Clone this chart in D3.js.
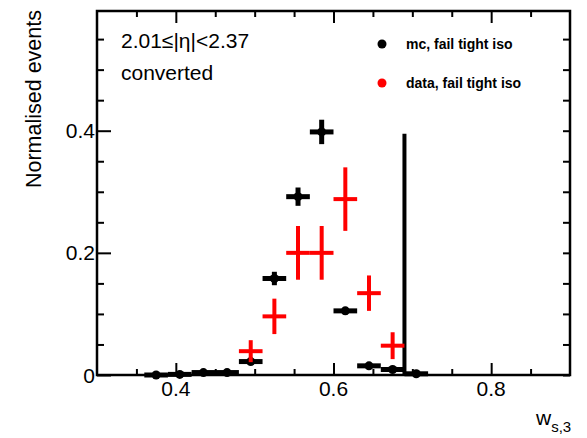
<!DOCTYPE html>
<html>
<head>
<meta charset="utf-8">
<script src="https://cdn.jsdelivr.net/npm/d3@7"></script>
<style>
  body { margin: 0; background: #fff; }
  svg { display: block; font-family: "Liberation Sans", Arial, Helvetica, sans-serif; }
</style>
</head>
<body>
<svg id="chart" width="587" height="438"></svg>
<script>
// bin centres (bin width 0.03)
const binWidth = 0.03;
const mcX = [0.375, 0.405, 0.435, 0.465, 0.495, 0.525, 0.555, 0.585, 0.615, 0.645, 0.675, 0.705];
const mcY = [0.000, 0.001, 0.004, 0.004, 0.022, 0.158, 0.292, 0.398, 0.105, 0.015, 0.009, 0.002];
const mcErr = [0.001, 0.001, 0.002, 0.002, 0.004, 0.011, 0.015, 0.020, 0.006, 0.003, 0.002, 0.001];

const dataX = [0.495, 0.525, 0.555, 0.585, 0.615, 0.645, 0.675];
const dataY = [0.039, 0.096, 0.200, 0.200, 0.288, 0.134, 0.048];
const dataErr = [0.018, 0.029, 0.044, 0.044, 0.052, 0.029, 0.022];

// cut line
const cutX = 0.69;
const cutHeight = 0.395;

const xMajor = [0.4, 0.6, 0.8];
const xMinor = [0.35, 0.45, 0.5, 0.55, 0.65, 0.7, 0.75, 0.85];
const yMajor = [0, 0.2, 0.4];
const yMinor = [0.05, 0.1, 0.15, 0.25, 0.3, 0.35, 0.45, 0.5, 0.55];

const legendItems = ["mc, fail tight iso", "data, fail tight iso"];
const legendColors = ["#000", "#ff0000"];

const svg = d3.select("#chart");
const frame = { left: 97, right: 570, top: 11, bottom: 375 };

const x = d3.scaleLinear().domain([0.3, 0.9]).range([frame.left, frame.right]);
const y = d3.scaleLinear().domain([0, 0.596]).range([frame.bottom, frame.top]);

// ticks (all sides, pointing inward)
function tickAxis(axisFn, scale, values, size, transform) {
  const g = svg.append("g")
    .attr("transform", transform)
    .call(axisFn(scale).tickValues(values).tickSize(size).tickFormat(""));
  g.select(".domain").remove();
  g.selectAll("line").attr("stroke", "#000").attr("stroke-width", 2);
  return g;
}
tickAxis(d3.axisTop, x, xMajor, 12, `translate(0,${frame.bottom})`);
tickAxis(d3.axisTop, x, xMinor, 6, `translate(0,${frame.bottom})`);
tickAxis(d3.axisBottom, x, xMajor, 12, `translate(0,${frame.top})`);
tickAxis(d3.axisBottom, x, xMinor, 6, `translate(0,${frame.top})`);
tickAxis(d3.axisRight, y, yMajor, 14, `translate(${frame.left},0)`);
tickAxis(d3.axisRight, y, yMinor, 7, `translate(${frame.left},0)`);
tickAxis(d3.axisLeft, y, yMajor, 7, `translate(${frame.right},0)`);
tickAxis(d3.axisLeft, y, yMinor, 7, `translate(${frame.right},0)`);

// tick labels
svg.append("g").selectAll("text").data(xMajor).join("text")
  .attr("x", d => x(d)).attr("y", 396)
  .attr("text-anchor", "middle").attr("font-size", 21)
  .text(d => d3.format(".1f")(d));
svg.append("g").selectAll("text").data(yMajor).join("text")
  .attr("x", 95).attr("y", d => y(d) + 7.5)
  .attr("text-anchor", "end").attr("font-size", 21)
  .text(d => d === 0 ? "0" : d3.format(".1f")(d));

// frame
svg.append("rect")
  .attr("x", frame.left).attr("y", frame.top)
  .attr("width", frame.right - frame.left).attr("height", frame.bottom - frame.top)
  .attr("fill", "none").attr("stroke", "#000").attr("stroke-width", 2.5);

// mc points
const mc = mcX.map((v, i) => ({ x: v, y: mcY[i], e: mcErr[i] }));
const gmc = svg.append("g");
gmc.selectAll("line.h").data(mc).join("line").attr("class", "h")
  .attr("x1", d => x(d.x - binWidth / 2)).attr("x2", d => x(d.x + binWidth / 2))
  .attr("y1", d => y(d.y)).attr("y2", d => y(d.y))
  .attr("stroke", "#000").attr("stroke-width", 5);
gmc.selectAll("line.v").data(mc).join("line").attr("class", "v")
  .attr("x1", d => x(d.x)).attr("x2", d => x(d.x))
  .attr("y1", d => y(d.y - d.e)).attr("y2", d => y(d.y + d.e))
  .attr("stroke", "#000").attr("stroke-width", 5);
gmc.selectAll("circle").data(mc).join("circle")
  .attr("cx", d => x(d.x)).attr("cy", d => y(d.y)).attr("r", 4.5)
  .attr("fill", "#000");

// cut line
svg.append("line")
  .attr("x1", x(cutX)).attr("x2", x(cutX))
  .attr("y1", y(0)).attr("y2", y(cutHeight))
  .attr("stroke", "#000").attr("stroke-width", 4);

// data points
const dat = dataX.map((v, i) => ({ x: v, y: dataY[i], e: dataErr[i] }));
const gd = svg.append("g");
gd.selectAll("line.h").data(dat).join("line").attr("class", "h")
  .attr("x1", d => x(d.x - binWidth / 2)).attr("x2", d => x(d.x + binWidth / 2))
  .attr("y1", d => y(d.y)).attr("y2", d => y(d.y))
  .attr("stroke", "#ff0000").attr("stroke-width", 4);
gd.selectAll("line.v").data(dat).join("line").attr("class", "v")
  .attr("x1", d => x(d.x)).attr("x2", d => x(d.x))
  .attr("y1", d => y(d.y - d.e)).attr("y2", d => y(d.y + d.e))
  .attr("stroke", "#ff0000").attr("stroke-width", 4);

// annotation texts
svg.append("text").attr("x", 121).attr("y", 48).attr("font-size", 21).text("2.01≤|η|<2.37");
svg.append("text").attr("x", 121).attr("y", 80).attr("font-size", 21).text("converted");

// legend
const lg = svg.append("g").selectAll("g").data(legendItems).join("g")
  .attr("transform", (d, i) => `translate(382,${44 + i * 39})`);
lg.append("circle").attr("r", 4.5).attr("fill", (d, i) => legendColors[i]);
lg.append("text").attr("x", 24).attr("y", 5)
  .attr("font-size", 14).attr("font-weight", "bold").text(d => d);

// axis titles
svg.append("text")
  .attr("transform", "translate(41,10) rotate(-90)")
  .attr("text-anchor", "end").attr("font-size", 21.5)
  .text("Normalised events");
const xt = svg.append("text").attr("x", 536).attr("y", 425).attr("font-size", 21);
xt.append("tspan").text("w");
xt.append("tspan").attr("font-size", 15).attr("dy", 7).text("s,3");
</script>
</body>
</html>
